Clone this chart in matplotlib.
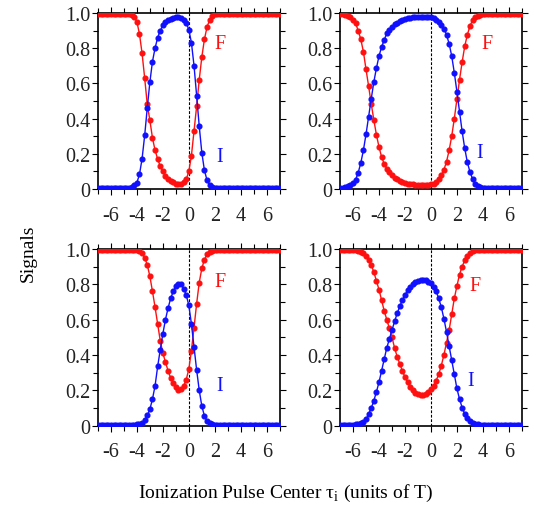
import numpy as np
import matplotlib
matplotlib.use("Agg")
import matplotlib.pyplot as plt
from matplotlib.ticker import MultipleLocator, FuncFormatter

plt.rcParams['font.family'] = 'Liberation Serif'
plt.rcParams['mathtext.fontset'] = 'custom'
plt.rcParams['mathtext.rm'] = 'Liberation Serif'
plt.rcParams['axes.unicode_minus'] = False

# ionization pulse centre (units of T), sampled every 0.2
tau = np.round(np.arange(-7.0, 7.01, 0.2), 1)

# panel (a) top left
I_a = [0.005, 0.005, 0.005, 0.005, 0.005,
       0.005, 0.005, 0.005, 0.005, 0.005,
       0.005, 0.005, 0.006, 0.010, 0.020,
       0.036, 0.083, 0.172, 0.304, 0.461,
       0.607, 0.724, 0.800, 0.860, 0.900,
       0.930, 0.950, 0.960, 0.967, 0.972,
       0.974, 0.975, 0.972, 0.962, 0.942,
       0.905, 0.830, 0.700, 0.530, 0.357,
       0.206, 0.106, 0.050, 0.020, 0.010,
       0.006, 0.005, 0.005, 0.005, 0.005,
       0.005, 0.005, 0.005, 0.005, 0.005,
       0.005, 0.005, 0.005, 0.005, 0.005,
       0.005, 0.005, 0.005, 0.005, 0.005,
       0.005, 0.005, 0.005, 0.005, 0.005,
       0.005]
F_a = [0.995, 0.995, 0.995, 0.995, 0.995,
       0.995, 0.995, 0.995, 0.995, 0.995,
       0.995, 0.995, 0.995, 0.990, 0.975,
       0.950, 0.880, 0.770, 0.630, 0.480,
       0.390, 0.290, 0.220, 0.170, 0.130,
       0.100, 0.075, 0.058, 0.046, 0.037,
       0.031, 0.028, 0.030, 0.037, 0.055,
       0.100, 0.190, 0.330, 0.470, 0.620,
       0.750, 0.850, 0.920, 0.960, 0.985,
       0.993, 0.995, 0.995, 0.995, 0.995,
       0.995, 0.995, 0.995, 0.995, 0.995,
       0.995, 0.995, 0.995, 0.995, 0.995,
       0.995, 0.995, 0.995, 0.995, 0.995,
       0.995, 0.995, 0.995, 0.995, 0.995,
       0.995]

# panel (b) top right
I_b = [0.005, 0.008, 0.012, 0.018, 0.025,
       0.032, 0.053, 0.093, 0.148, 0.220,
       0.310, 0.410, 0.510, 0.606, 0.686,
       0.754, 0.807, 0.845, 0.886, 0.905,
       0.920, 0.935, 0.945, 0.953, 0.960,
       0.965, 0.969, 0.972, 0.974, 0.976,
       0.977, 0.978, 0.978, 0.977, 0.976,
       0.974, 0.970, 0.962, 0.950, 0.932,
       0.910, 0.876, 0.825, 0.755, 0.660,
       0.553, 0.440, 0.328, 0.232, 0.153,
       0.098, 0.058, 0.030, 0.016, 0.009,
       0.006, 0.005, 0.005, 0.005, 0.005,
       0.005, 0.005, 0.005, 0.005, 0.005,
       0.005, 0.005, 0.005, 0.005, 0.005,
       0.005]
F_b = [0.995, 0.993, 0.990, 0.985, 0.975,
       0.960, 0.940, 0.900, 0.850, 0.780,
       0.680, 0.585, 0.485, 0.394, 0.309,
       0.239, 0.182, 0.144, 0.116, 0.095,
       0.078, 0.064, 0.054, 0.046, 0.040,
       0.035, 0.031, 0.028, 0.026, 0.024,
       0.023, 0.022, 0.022, 0.023, 0.024,
       0.026, 0.030, 0.038, 0.055, 0.080,
       0.110, 0.155, 0.220, 0.300, 0.400,
       0.510, 0.620, 0.720, 0.810, 0.875,
       0.925, 0.958, 0.975, 0.985, 0.990,
       0.993, 0.995, 0.995, 0.995, 0.995,
       0.995, 0.995, 0.995, 0.995, 0.995,
       0.995, 0.995, 0.995, 0.995, 0.995,
       0.995]

# panel (c) bottom left
I_c = [0.005, 0.005, 0.005, 0.005, 0.005,
       0.005, 0.005, 0.005, 0.005, 0.005,
       0.005, 0.005, 0.005, 0.005, 0.005,
       0.006, 0.010, 0.017, 0.032, 0.058,
       0.092, 0.150, 0.225, 0.335, 0.430,
       0.520, 0.600, 0.665, 0.720, 0.760,
       0.790, 0.803, 0.800, 0.775, 0.740,
       0.680, 0.575, 0.445, 0.315, 0.200,
       0.110, 0.055, 0.025, 0.012, 0.007,
       0.005, 0.005, 0.005, 0.005, 0.005,
       0.005, 0.005, 0.005, 0.005, 0.005,
       0.005, 0.005, 0.005, 0.005, 0.005,
       0.005, 0.005, 0.005, 0.005, 0.005,
       0.005, 0.005, 0.005, 0.005, 0.005,
       0.005]
F_c = [0.995, 0.995, 0.995, 0.995, 0.995,
       0.995, 0.995, 0.995, 0.995, 0.995,
       0.995, 0.995, 0.995, 0.995, 0.995,
       0.995, 0.990, 0.975, 0.950, 0.910,
       0.845, 0.760, 0.670, 0.575, 0.480,
       0.410, 0.360, 0.310, 0.270, 0.240,
       0.217, 0.204, 0.205, 0.225, 0.260,
       0.320, 0.425, 0.555, 0.690, 0.810,
       0.890, 0.940, 0.970, 0.985, 0.990,
       0.995, 0.995, 0.995, 0.995, 0.995,
       0.995, 0.995, 0.995, 0.995, 0.995,
       0.995, 0.995, 0.995, 0.995, 0.995,
       0.995, 0.995, 0.995, 0.995, 0.995,
       0.995, 0.995, 0.995, 0.995, 0.995,
       0.995]

# panel (d) bottom right
I_d = [0.004, 0.004, 0.004, 0.004, 0.004,
       0.005, 0.006, 0.008, 0.012, 0.020,
       0.035, 0.065, 0.098, 0.140, 0.190,
       0.245, 0.310, 0.375, 0.440, 0.490,
       0.540, 0.590, 0.635, 0.675, 0.710,
       0.740, 0.765, 0.785, 0.800, 0.812,
       0.820, 0.825, 0.826, 0.822, 0.815,
       0.805, 0.785, 0.760, 0.720, 0.670,
       0.605, 0.530, 0.450, 0.370, 0.290,
       0.210, 0.150, 0.102, 0.066, 0.042,
       0.026, 0.016, 0.010, 0.007, 0.005,
       0.004, 0.004, 0.004, 0.004, 0.004,
       0.004, 0.004, 0.004, 0.004, 0.004,
       0.004, 0.004, 0.004, 0.004, 0.004,
       0.004]
F_d = [0.995, 0.995, 0.995, 0.995, 0.995,
       0.995, 0.995, 0.990, 0.985, 0.975,
       0.960, 0.940, 0.910, 0.870, 0.820,
       0.770, 0.710, 0.650, 0.600, 0.550,
       0.500, 0.440, 0.390, 0.350, 0.310,
       0.275, 0.245, 0.220, 0.200, 0.187,
       0.178, 0.175, 0.175, 0.180, 0.190,
       0.205, 0.225, 0.255, 0.290, 0.340,
       0.400, 0.470, 0.540, 0.630, 0.720,
       0.790, 0.855, 0.900, 0.935, 0.962,
       0.978, 0.988, 0.993, 0.995, 0.995,
       0.995, 0.995, 0.995, 0.995, 0.995,
       0.995, 0.995, 0.995, 0.995, 0.995,
       0.995, 0.995, 0.995, 0.995, 0.995,
       0.995]

panels = [
    # (F, I, axes rect, F label pos, I label pos)
    (F_a, I_a, [0.182, 0.6245, 0.338, 0.348], (2.0, 0.80), (2.1, 0.16)),
    (F_b, I_b, [0.632, 0.6245, 0.338, 0.348], (3.9, 0.80), (3.5, 0.18)),
    (F_c, I_c, [0.182, 0.157, 0.338, 0.349], (2.0, 0.79), (2.1, 0.20)),
    (F_d, I_d, [0.632, 0.157, 0.338, 0.349], (3.0, 0.77), (2.8, 0.23)),
]

red = '#ff1010'
blue = '#1010ff'

fig = plt.figure(figsize=(5.38, 5.06), dpi=100)

for F, I, rect, fpos, ipos in panels:
    ax = fig.add_axes(rect)
    ax.axvline(0, color='black', lw=0.8, ls=(0, (2.5, 1.5)), zorder=1)
    ax.plot(tau, F, color=red, lw=1.0, marker='o', ms=3.4, mec=red, mfc=red, zorder=3)
    ax.plot(tau, I, color=blue, lw=1.0, marker='o', ms=3.4, mec=blue, mfc=blue, zorder=3)
    ax.text(fpos[0], fpos[1], 'F', color=red, fontsize=14.5)
    ax.text(ipos[0], ipos[1], 'I', color=blue, fontsize=14.5)

    ax.set_xlim(-7, 7)
    ax.set_ylim(0, 1.0)
    ax.xaxis.set_major_locator(MultipleLocator(2))
    ax.xaxis.set_minor_locator(MultipleLocator(1))
    ax.yaxis.set_major_locator(MultipleLocator(0.2))
    ax.yaxis.set_minor_locator(MultipleLocator(0.1))
    ax.xaxis.set_major_formatter(FuncFormatter(lambda v, p: '%d' % round(v)))
    ax.yaxis.set_major_formatter(FuncFormatter(lambda v, p: '0' if abs(v) < 1e-9 else '%.1f' % v))
    ax.tick_params(which='both', direction='out', top=True, right=True,
                   width=0.8, colors='black', labelcolor='#222222', labelsize=14.5)
    ax.tick_params(which='major', length=4)
    ax.tick_params(which='minor', length=3.5)
    ax.tick_params(axis='x', pad=8)
    ax.tick_params(axis='y', pad=1.5)
    for s in ax.spines.values():
        s.set_linewidth(1.2)

fig.text(0.052, 0.5, 'Signals', rotation=90, ha='center', va='center', fontsize=14)
fig.text(0.53, 0.024, r'Ionization Pulse Center τ$_{\rm i}$ (units of T)',
         ha='center', va='center', fontsize=14)

fig.savefig('out.png', dpi=100)
